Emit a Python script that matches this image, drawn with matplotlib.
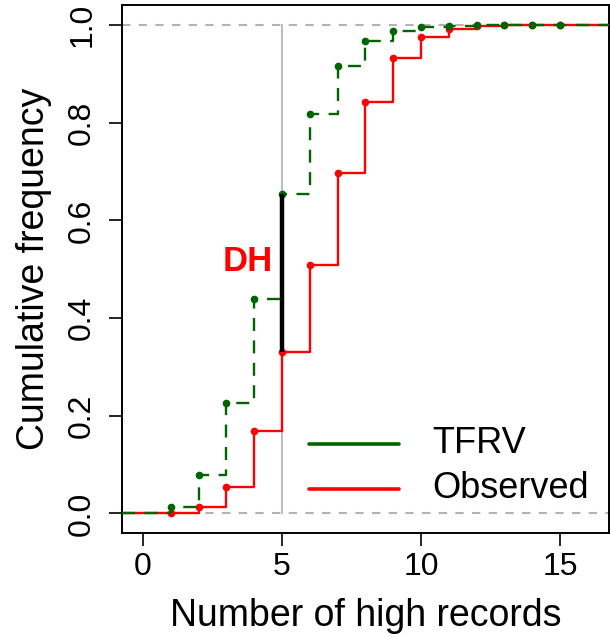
import numpy as np
import matplotlib
matplotlib.use("Agg")
import matplotlib.pyplot as plt

plt.rcParams['font.family'] = ['Liberation Sans', 'DejaVu Sans']

# data
knots = [1, 2, 3, 4, 5, 6, 7, 8, 9, 10, 11, 12, 13, 14, 15]
tfrv = [0.013, 0.078, 0.226, 0.439, 0.653, 0.817, 0.917, 0.968, 0.988,
        0.996, 0.999, 1.0, 1.0, 1.0, 1.0]
observed = [0.0, 0.013, 0.055, 0.169, 0.331, 0.509, 0.697, 0.843, 0.932,
            0.975, 0.991, 0.998, 1.0, 1.0, 1.0]
dh_x = 5
xlim = (-0.77, 16.76)


def step_line(ax, x, y, **kw):
    # R plot.stepfun style: extend to the plot edges
    xs = [xlim[0]] + list(x) + [xlim[1]]
    ys = [0.0] + list(y) + [y[-1]]
    ax.step(xs, ys, where='post', **kw)


fig = plt.figure(figsize=(6.1, 6.37), dpi=100)
ax = fig.add_axes([0.1992, 0.1633, 0.9984 - 0.1992, 0.9914 - 0.1633])

# gray reference lines
ax.axhline(0, color='#b3b3b3', ls=(0, (4, 4)), lw=1.5, zorder=1)
ax.axhline(1, color='#b3b3b3', ls=(0, (4, 4)), lw=1.5, zorder=1)
ax.plot([dh_x, dh_x], [0, 1], color='#bebebe', lw=1.5, zorder=1)

# observed (red, solid)
step_line(ax, knots, observed, color='red', lw=1.7, zorder=2)
ax.plot(knots, observed, 'o', color='red', ms=4.5, zorder=2)

# TFRV (dark green, dashed)
step_line(ax, knots, tfrv, color='#006400', lw=1.7, ls=(0, (5.5, 4)), zorder=3)
ax.plot(knots, tfrv, 'o', color='#006400', ms=4.5, zorder=3)

# DH segment
i = knots.index(dh_x)
ax.plot([dh_x, dh_x], [observed[i], tfrv[i]], color='black', lw=3.2,
        solid_capstyle='butt', zorder=4)
ax.text(4.68, 0.515, 'DH', color='red', fontsize=25, fontweight='bold',
        ha='right', va='center')

# legend drawn like R's legend(bty='n')
ax.plot([5.97, 9.2], [0.143, 0.143], color='#006400', lw=2.6, solid_capstyle='round')
ax.plot([5.97, 9.2], [0.051, 0.051], color='red', lw=2.6, solid_capstyle='round')
ax.text(10.42, 0.143, 'TFRV', fontsize=26, va='center', ha='left')
ax.text(10.42, 0.051, 'Observed', fontsize=26, va='center', ha='left')

ax.set_xlim(*xlim)
ax.set_ylim(-0.04, 1.04)
ax.set_xticks([0, 5, 10, 15])
ax.set_yticks([0.0, 0.2, 0.4, 0.6, 0.8, 1.0])
ax.set_yticklabels(['0.0', '0.2', '0.4', '0.6', '0.8', '1.0'])
ax.tick_params(axis='both', labelsize=23, length=9.5, width=1.2)
ax.tick_params(axis='x', pad=4.5)
ax.tick_params(axis='y', labelrotation=90, pad=8)
for lab in ax.get_yticklabels():
    lab.set_va('center')

for s in ax.spines.values():
    s.set_linewidth(1.4)

ax.set_xlabel('Number of high records', fontsize=27, labelpad=11)
ax.set_ylabel('Cumulative frequency', fontsize=27, labelpad=11)

fig.savefig('out.png', dpi=100)
